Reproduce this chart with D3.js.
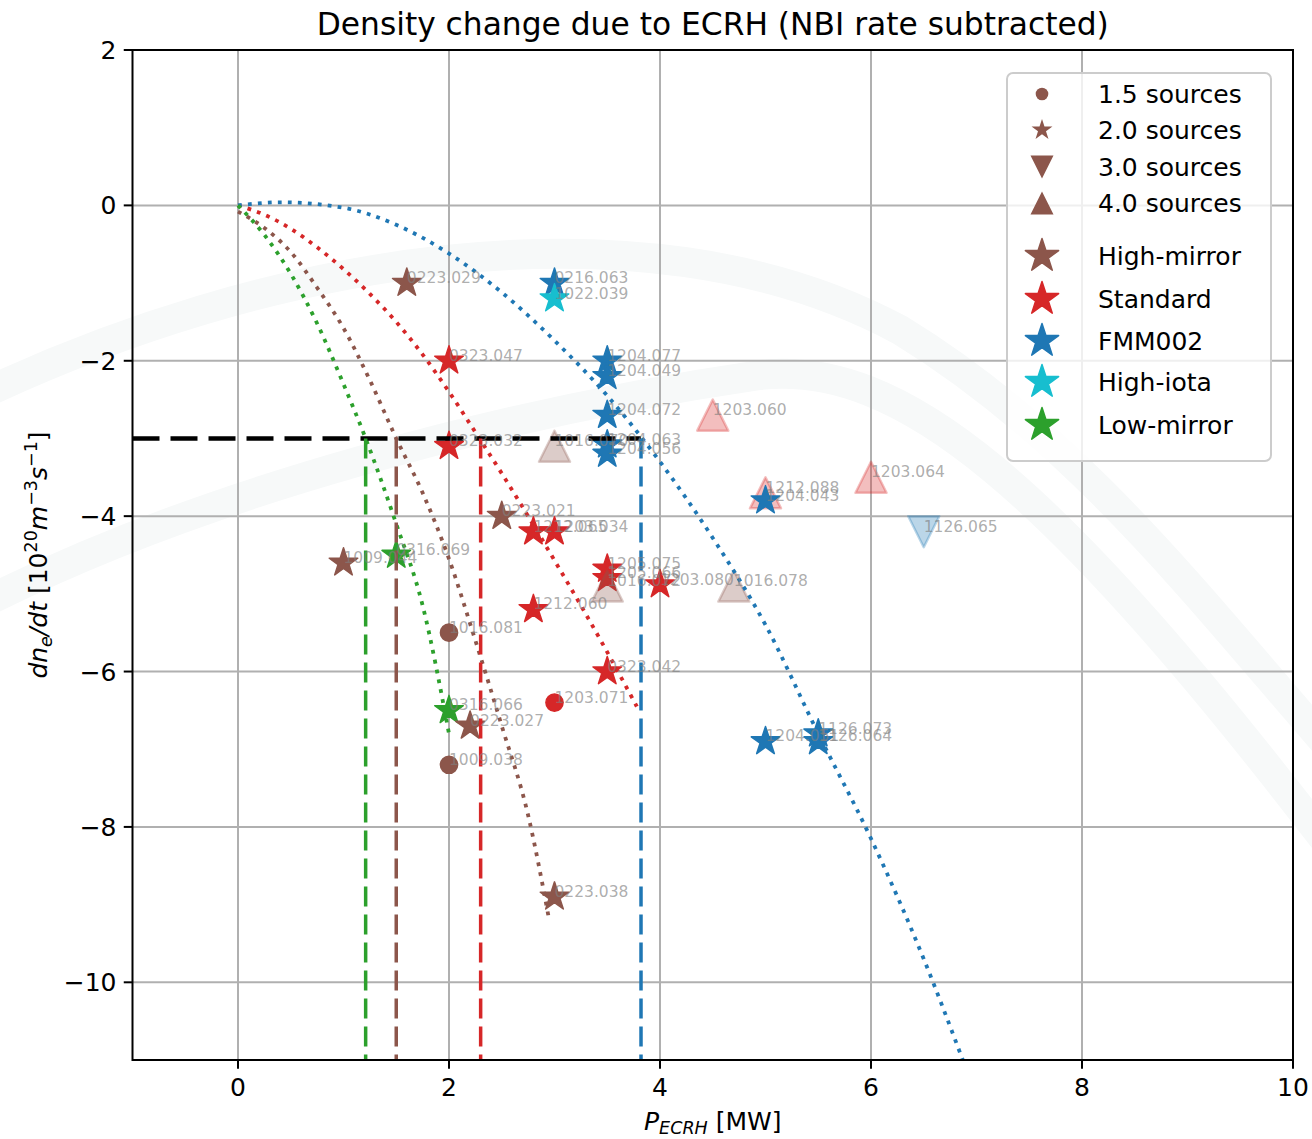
<!DOCTYPE html>
<html>
<head>
<meta charset="utf-8">
<script src="https://cdn.jsdelivr.net/npm/d3@7"></script>
<style>
  body { margin: 0; background: #fff; }
  svg { display: block; }
  text { font-family: "DejaVu Sans", sans-serif; }
</style>
</head>
<body>
<svg id="chart" width="1312" height="1139"></svg>
<script>
// ---- shot data: ECRH power [MW] and density rate [1e20 m^-3 s^-1] ----
const shots   = ["0223.029","0216.063","1022.039","0323.047","1204.077","1204.049","1204.072","1203.060",
                 "0323.032","1016.070","1204.063","1204.056","1212.088","1204.043","1203.064","1126.065",
                 "0223.021","1212.065","1203.034","1205.075","1205.066","1016.072","1203.080","1016.078",
                 "1212.060","1016.081","0323.042","1203.071","0316.069","1009.044","0316.066","0223.027",
                 "1009.038","0223.038","1204.051","1126.073","1126.064"];
const power   = [1.6, 3.0, 3.0, 2.0, 3.5, 3.5, 3.5, 4.5,
                 2.0, 3.0, 3.5, 3.5, 5.0, 5.0, 6.0, 6.5,
                 2.5, 2.8, 3.0, 3.5, 3.5, 3.5, 4.0, 4.7,
                 2.8, 2.0, 3.5, 3.0, 1.5, 1.0, 2.0, 2.2,
                 2.0, 3.0, 5.0, 5.5, 5.5];
const dndt    = [-1.0, -1.0, -1.2, -2.0, -2.0, -2.2, -2.7, -2.7,
                 -3.1, -3.1, -3.08, -3.2, -3.7, -3.8, -3.5, -4.2,
                 -4.0, -4.2, -4.2, -4.68, -4.8, -4.9, -4.88, -4.9,
                 -5.2, -5.5, -6.0, -6.4, -4.5, -4.6, -6.5, -6.7,
                 -7.2, -8.9, -6.9, -6.8, -6.9];
const config  = ["High-mirror","FMM002","High-iota","Standard","FMM002","FMM002","FMM002","Standard",
                 "Standard","High-mirror","FMM002","FMM002","Standard","FMM002","Standard","FMM002",
                 "High-mirror","Standard","Standard","Standard","Standard","High-mirror","Standard","High-mirror",
                 "Standard","High-mirror","Standard","Standard","Low-mirror","High-mirror","Low-mirror","High-mirror",
                 "High-mirror","High-mirror","FMM002","FMM002","FMM002"];
const sources = [2.0, 2.0, 2.0, 2.0, 2.0, 2.0, 2.0, 4.0,
                 2.0, 4.0, 2.0, 2.0, 4.0, 2.0, 4.0, 3.0,
                 2.0, 2.0, 2.0, 2.0, 2.0, 4.0, 2.0, 4.0,
                 2.0, 1.5, 2.0, 1.5, 2.0, 2.0, 2.0, 2.0,
                 1.5, 2.0, 2.0, 2.0, 2.0];

// ---- categories ----
const configNames  = ["High-mirror","Standard","FMM002","High-iota","Low-mirror"];
const configColors = ["#8c564b","#d62728","#1f77b4","#17becf","#2ca02c"];
const sourceLevels = [1.5, 2.0, 3.0, 4.0];
const sourceShapes = ["circle","star","down","up"];
const sourceLabels = ["1.5 sources","2.0 sources","3.0 sources","4.0 sources"];

// ---- fitted trends per configuration ----
const fitHighMirrorX = [0, 0.25, 0.5, 0.75, 1, 1.25, 1.5, 1.75, 2, 2.25, 2.5, 2.75, 2.95];
const fitHighMirrorY = [-0.08, -0.29, -0.6, -1.06, -1.58, -2.25, -3.0, -3.7, -4.55, -5.6, -6.7, -7.85, -9.2];
const fitStandardX   = [0, 0.25, 0.5, 0.75, 1, 1.25, 1.5, 1.75, 2, 2.25, 2.5, 2.75, 3, 3.25, 3.5, 3.78];
const fitStandardY   = [0, -0.12, -0.3, -0.54, -0.82, -1.14, -1.5, -1.92, -2.4, -2.92, -3.45, -4.0, -4.57, -5.15, -5.75, -6.45];
const fitFmmX        = [0, 0.4, 1, 1.5, 2, 2.5, 3, 3.5, 4, 4.5, 5, 5.5, 6, 6.5, 6.87];
const fitFmmY        = [0, 0.04, -0.03, -0.25, -0.62, -1.12, -1.74, -2.45, -3.3, -4.28, -5.4, -6.8, -8.15, -9.7, -11.0];
const fitLowMirrorX  = [0, 0.25, 0.5, 0.75, 1, 1.21, 1.5, 1.75, 2];
const fitLowMirrorY  = [0, -0.38, -0.88, -1.52, -2.3, -3.0, -4.1, -5.15, -6.8];

// ---- threshold and power needed to reach it ----
const threshold     = -3;
const crossConfigs  = ["Low-mirror","High-mirror","Standard","FMM002"];
const crossPower    = [1.21, 1.5, 2.3, 3.82];

// ---- axes ----
const xTicks = [0, 2, 4, 6, 8, 10];
const yTicks = [2, 0, -2, -4, -6, -8, -10];
const xDomain = [-1, 10];
const yDomain = [-11, 2];

const svg = d3.select("#chart");
const L = 132.5, R = 1293, T = 50, B = 1060;
const x = d3.scaleLinear().domain(xDomain).range([L, R]);
const y = d3.scaleLinear().domain(yDomain).range([B, T]);
const colorOf = d3.scaleOrdinal().domain(configNames).range(configColors);
const shapeOf = d3.scaleOrdinal().domain(sourceLevels).range(sourceShapes);

function starPath(Ro) {
  const ri = Ro * 0.381966;
  let p = "";
  for (let i = 0; i < 10; i++) {
    const a = Math.PI / 5 * i - Math.PI / 2;
    const rr = i % 2 ? ri : Ro;
    p += (i ? "L" : "M") + (rr * Math.cos(a)).toFixed(2) + "," + (rr * Math.sin(a)).toFixed(2);
  }
  return p + "Z";
}
function triPath(s, down) {
  const h = s / 2;
  return down ? `M0,${h}L${-h},${-h}L${h},${-h}Z` : `M0,${-h}L${-h},${h}L${h},${h}Z`;
}
function markerPath(shape, size) {
  if (shape === "star") return starPath(size);
  if (shape === "up") return triPath(size, false);
  if (shape === "down") return triPath(size, true);
  return d3.arc()({innerRadius: 0, outerRadius: size, startAngle: 0, endAngle: 2 * Math.PI});
}

// faint background emblem
const wm = svg.append("g").attr("fill", "none").attr("stroke", "#f7f9f9").attr("stroke-width", 30).attr("stroke-linecap", "round");
wm.append("path").attr("d", "M-30,400 C260,260 640,190 900,330 C1080,440 1200,600 1340,760");
wm.append("path").attr("d", "M-30,610 C200,490 520,410 760,375 C900,360 1050,480 1340,860");

// grid
const grid = svg.append("g").attr("stroke", "#b0b0b0").attr("stroke-width", 2);
grid.selectAll(".gx").data(xTicks).join("line")
  .attr("x1", d => x(d)).attr("x2", d => x(d)).attr("y1", T).attr("y2", B);
grid.selectAll(".gy").data(yTicks).join("line")
  .attr("y1", d => y(d)).attr("y2", d => y(d)).attr("x1", L).attr("x2", R);

const plot = svg.append("g");
plot.append("clipPath").attr("id", "clip").append("rect").attr("x", L).attr("y", T).attr("width", R - L).attr("height", B - T);
const inner = plot.append("g").attr("clip-path", "url(#clip)");

// data points, drawn in shot order; 3 and 4 source shots are translucent triangles
const points = shots.map((s, i) => ({shot: s, p: power[i], v: dndt[i], cfg: config[i], src: sources[i]}));

inner.selectAll(".pt").data(points).join("path")
  .attr("transform", d => `translate(${x(d.p)},${y(d.v)})`)
  .attr("d", d => {
    const sh = shapeOf(d.src);
    return markerPath(sh, sh === "star" ? 15 : sh === "circle" ? 8.6 : 31);
  })
  .attr("fill", d => colorOf(d.cfg))
  .attr("fill-opacity", d => d.src >= 3 ? 0.3 : 1)
  .attr("stroke", d => colorOf(d.cfg))
  .attr("stroke-opacity", d => d.src >= 3 ? 0.3 : 1)
  .attr("stroke-width", d => d.src >= 3 ? 2.5 : 1.5)
  .attr("stroke-linejoin", "round");

// fitted trends
const fits = [
  {cfg: "High-mirror", xs: fitHighMirrorX, ys: fitHighMirrorY},
  {cfg: "Standard",    xs: fitStandardX,   ys: fitStandardY},
  {cfg: "FMM002",      xs: fitFmmX,        ys: fitFmmY},
  {cfg: "Low-mirror",  xs: fitLowMirrorX,  ys: fitLowMirrorY}
];
const line = d3.line().x(d => x(d[0])).y(d => y(d[1])).curve(d3.curveMonotoneX);
inner.selectAll(".fit").data(fits).join("path")
  .attr("d", f => line(f.xs.map((v, i) => [v, f.ys[i]])))
  .attr("fill", "none").attr("stroke", f => colorOf(f.cfg))
  .attr("stroke-width", 3.8).attr("stroke-dasharray", "3.8,6.2");

// threshold line and required power
inner.append("line")
  .attr("x1", x(xDomain[0])).attr("x2", x(d3.max(crossPower)))
  .attr("y1", y(threshold)).attr("y2", y(threshold))
  .attr("stroke", "#000").attr("stroke-width", 4.5).attr("stroke-dasharray", "27,11");
inner.selectAll(".cross").data(crossConfigs).join("line")
  .attr("x1", (c, i) => x(crossPower[i])).attr("x2", (c, i) => x(crossPower[i]))
  .attr("y1", y(threshold)).attr("y2", y(yDomain[0]))
  .attr("stroke", c => colorOf(c)).attr("stroke-width", 3.5).attr("stroke-dasharray", "20,8");

// shot labels
inner.selectAll(".lbl").data(points).join("text")
  .attr("x", d => x(d.p)).attr("y", d => y(d.v))
  .attr("font-size", 15.5).attr("fill", "#808080").attr("fill-opacity", 0.65)
  .text(d => d.shot);

// frame
svg.append("rect").attr("x", L).attr("y", T).attr("width", R - L).attr("height", B - T)
  .attr("fill", "none").attr("stroke", "#000").attr("stroke-width", 2);

// ticks
const ax = svg.append("g");
ax.selectAll(".tx").data(xTicks).join("line")
  .attr("x1", d => x(d)).attr("x2", d => x(d)).attr("y1", B).attr("y2", B + 8.75)
  .attr("stroke", "#000").attr("stroke-width", 2);
ax.selectAll(".txl").data(xTicks).join("text")
  .attr("x", d => x(d)).attr("y", B + 36).attr("text-anchor", "middle").attr("font-size", 25)
  .text(d => d3.format("d")(d).replace("-", "\u2212"));
ax.selectAll(".ty").data(yTicks).join("line")
  .attr("y1", d => y(d)).attr("y2", d => y(d)).attr("x1", L - 8.75).attr("x2", L)
  .attr("stroke", "#000").attr("stroke-width", 2);
ax.selectAll(".tyl").data(yTicks).join("text")
  .attr("x", L - 16).attr("y", d => y(d) + 9).attr("text-anchor", "end").attr("font-size", 25)
  .text(d => String(d).replace("-", "\u2212"));

// axis titles
const xl = svg.append("text").attr("x", (L + R) / 2).attr("y", 1130).attr("text-anchor", "middle").attr("font-size", 25);
xl.append("tspan").attr("font-style", "italic").text("P");
xl.append("tspan").attr("font-style", "italic").attr("font-size", 17.5).attr("dy", 4).text("ECRH");
xl.append("tspan").attr("dy", -4).text(" [MW]");

const yl = svg.append("text").attr("transform", `translate(47,${(T + B) / 2}) rotate(-90)`)
  .attr("text-anchor", "middle").attr("font-size", 25);
yl.append("tspan").attr("font-style", "italic").text("dn");
yl.append("tspan").attr("font-style", "italic").attr("font-size", 17.5).attr("dy", 5).text("e");
yl.append("tspan").attr("font-style", "italic").attr("dy", -5).text("/dt");
yl.append("tspan").text(" [10");
yl.append("tspan").attr("font-size", 17.5).attr("dy", -10).text("20");
yl.append("tspan").attr("font-style", "italic").attr("dy", 10).text("m");
yl.append("tspan").attr("font-size", 17.5).attr("dy", -10).text("\u22123");
yl.append("tspan").attr("font-style", "italic").attr("dy", 10).text("s");
yl.append("tspan").attr("font-size", 17.5).attr("dy", -10).text("\u22121");
yl.append("tspan").attr("dy", 10).text("]");

svg.append("text").attr("x", (L + R) / 2).attr("y", 35).attr("text-anchor", "middle")
  .attr("font-size", 31.3).text("Density change due to ECRH (NBI rate subtracted)");

// legend
const lg = svg.append("g");
lg.append("rect").attr("x", 1007).attr("y", 73).attr("width", 264).attr("height", 388).attr("rx", 6)
  .attr("fill", "#fff").attr("fill-opacity", 0.8).attr("stroke", "#cccccc").attr("stroke-width", 2);
const srcRowY = [94, 130, 167, 203];
const srcSizes = [6.3, 11, 23, 23];
sourceLevels.forEach((s, i) => {
  lg.append("path").attr("transform", `translate(1042,${srcRowY[i]})`)
    .attr("d", markerPath(shapeOf(s), srcSizes[i])).attr("fill", configColors[0]);
  lg.append("text").attr("x", 1098).attr("y", srcRowY[i] + 9).attr("font-size", 25).text(sourceLabels[i]);
});
const cfgRowY = [256, 299, 341, 382, 425];
configNames.forEach((c, i) => {
  lg.append("path").attr("transform", `translate(1042,${cfgRowY[i]})`)
    .attr("d", starPath(17.5)).attr("fill", colorOf(c)).attr("stroke", colorOf(c))
    .attr("stroke-width", 1.5).attr("stroke-linejoin", "round");
  lg.append("text").attr("x", 1098).attr("y", cfgRowY[i] + 9).attr("font-size", 25).text(c);
});
</script>
</body>
</html>
